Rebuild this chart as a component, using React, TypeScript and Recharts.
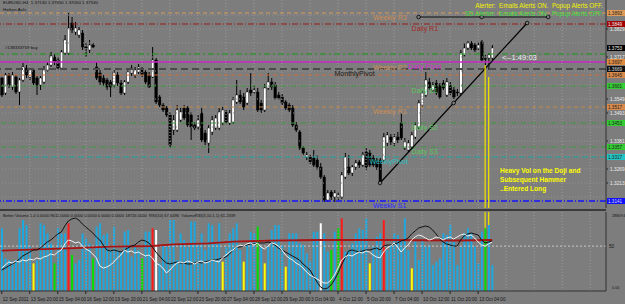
import React from 'react'
import { ComposedChart, Bar, Line, XAxis, YAxis, ReferenceLine, ReferenceDot, Cell } from 'recharts'

const FONT = '"Liberation Sans", Arial, sans-serif'
const BG = '#7d7d7d'
const SLOTS = 173 // bar slots across the visible window (data fills the first 141)

// H4 candles [open, high, low, close], 12 Sep 12:00 .. 13 Oct 20:00
const candles: number[][] = [
  [1.3633, 1.3637, 1.3557, 1.3565], [1.3573, 1.3653, 1.3565, 1.3645], [1.3645, 1.3653, 1.3593, 1.3605],
  [1.3597, 1.3657, 1.3585, 1.3645], [1.3637, 1.3645, 1.3569, 1.3577], [1.3577, 1.3633, 1.3525, 1.3625],
  [1.3625, 1.3693, 1.3617, 1.3677], [1.3673, 1.3685, 1.3633, 1.3645], [1.3637, 1.3673, 1.3625, 1.3665],
  [1.3665, 1.3673, 1.3605, 1.3613], [1.3633, 1.3641, 1.3565, 1.3605], [1.3605, 1.3641, 1.3585, 1.3633],
  [1.3617, 1.3681, 1.3609, 1.3665], [1.3665, 1.3697, 1.3657, 1.3685], [1.3685, 1.3737, 1.3677, 1.3721],
  [1.3717, 1.3729, 1.3685, 1.3697], [1.3705, 1.3717, 1.3665, 1.3673], [1.3673, 1.3745, 1.3665, 1.3737],
  [1.3733, 1.3805, 1.3725, 1.3785], [1.3733, 1.3893, 1.3725, 1.3833], [1.3853, 1.3877, 1.3813, 1.3825],
  [1.3817, 1.3857, 1.3805, 1.3833], [1.3805, 1.3837, 1.3793, 1.3825], [1.3813, 1.3825, 1.3745, 1.3757],
  [1.3757, 1.3777, 1.3717, 1.3753], [1.3745, 1.3785, 1.3733, 1.3765], [1.3765, 1.3773, 1.3753, 1.3757],
  [1.3677, 1.3697, 1.3625, 1.3633], [1.3653, 1.3665, 1.3605, 1.3617], [1.3633, 1.3645, 1.3601, 1.3613],
  [1.3625, 1.3633, 1.3585, 1.3597], [1.3617, 1.3625, 1.3557, 1.3597], [1.3605, 1.3665, 1.3593, 1.3653],
  [1.3645, 1.3657, 1.3601, 1.3613], [1.3613, 1.3625, 1.3565, 1.3573], [1.3573, 1.3625, 1.3565, 1.3617],
  [1.3617, 1.3673, 1.3609, 1.3657], [1.3653, 1.3685, 1.3641, 1.3673], [1.3645, 1.3677, 1.3633, 1.3665],
  [1.3657, 1.3689, 1.3649, 1.3677], [1.3665, 1.3677, 1.3637, 1.3645], [1.3657, 1.3665, 1.3609, 1.3617],
  [1.3645, 1.3657, 1.3593, 1.3597], [1.3637, 1.3757, 1.3633, 1.3705], [1.3705, 1.3713, 1.3529, 1.3537],
  [1.3557, 1.3565, 1.3517, 1.3525], [1.3525, 1.3533, 1.3497, 1.3505], [1.3513, 1.3521, 1.3477, 1.3485],
  [1.3485, 1.3497, 1.3353, 1.3365], [1.3425, 1.3485, 1.3405, 1.3465], [1.3425, 1.3525, 1.3417, 1.3505],
  [1.3465, 1.3513, 1.3457, 1.3497], [1.3513, 1.3525, 1.3465, 1.3473], [1.3513, 1.3521, 1.3437, 1.3445],
  [1.3485, 1.3497, 1.3385, 1.3437], [1.3445, 1.3457, 1.3425, 1.3433], [1.3437, 1.3485, 1.3425, 1.3465],
  [1.3493, 1.3513, 1.3377, 1.3385], [1.3413, 1.3425, 1.3365, 1.3377], [1.3373, 1.3445, 1.3333, 1.3433],
  [1.3417, 1.3481, 1.3405, 1.3465], [1.3433, 1.3485, 1.3425, 1.3473], [1.3433, 1.3513, 1.3425, 1.3497],
  [1.3453, 1.3517, 1.3445, 1.3505], [1.3497, 1.3505, 1.3449, 1.3457], [1.3453, 1.3505, 1.3445, 1.3493],
  [1.3457, 1.3557, 1.3449, 1.3545], [1.3537, 1.3625, 1.3529, 1.3565], [1.3565, 1.3585, 1.3529, 1.3537],
  [1.3557, 1.3573, 1.3505, 1.3517], [1.3533, 1.3593, 1.3525, 1.3577], [1.3585, 1.3653, 1.3561, 1.3573],
  [1.3577, 1.3605, 1.3569, 1.3585], [1.3577, 1.3593, 1.3497, 1.3505], [1.3533, 1.3545, 1.3493, 1.3505],
  [1.3505, 1.3609, 1.3497, 1.3593], [1.3593, 1.3653, 1.3585, 1.3617], [1.3617, 1.3633, 1.3585, 1.3597],
  [1.3605, 1.3617, 1.3545, 1.3553], [1.3565, 1.3577, 1.3545, 1.3553], [1.3557, 1.3569, 1.3525, 1.3533],
  [1.3537, 1.3545, 1.3505, 1.3513], [1.3525, 1.3533, 1.3497, 1.3505], [1.3513, 1.3525, 1.3437, 1.3445],
  [1.3445, 1.3457, 1.3417, 1.3425], [1.3417, 1.3425, 1.3345, 1.3353], [1.3353, 1.3361, 1.3325, 1.3333],
  [1.3317, 1.3337, 1.3305, 1.3325], [1.3317, 1.3325, 1.3289, 1.3297], [1.3313, 1.3345, 1.3277, 1.3285],
  [1.3305, 1.3325, 1.3265, 1.3277], [1.3277, 1.3293, 1.3229, 1.3237], [1.3237, 1.3245, 1.3137, 1.3145],
  [1.3145, 1.3185, 1.3137, 1.3173], [1.3177, 1.3185, 1.3145, 1.3157], [1.3157, 1.3185, 1.3137, 1.3173],
  [1.3157, 1.3177, 1.3145, 1.3165], [1.3157, 1.3257, 1.3149, 1.3245], [1.3237, 1.3333, 1.3229, 1.3317],
  [1.3277, 1.3325, 1.3245, 1.3253], [1.3253, 1.3285, 1.3241, 1.3277], [1.3277, 1.3305, 1.3265, 1.3293],
  [1.3297, 1.3305, 1.3273, 1.3285], [1.3285, 1.3337, 1.3277, 1.3325], [1.3337, 1.3353, 1.3265, 1.3277],
  [1.3333, 1.3345, 1.3277, 1.3285], [1.3313, 1.3325, 1.3277, 1.3285], [1.3305, 1.3313, 1.3265, 1.3277],
  [1.3305, 1.3313, 1.3213, 1.3217], [1.3305, 1.3413, 1.3297, 1.3397], [1.3373, 1.3417, 1.3361, 1.3405],
  [1.3397, 1.3409, 1.3365, 1.3377], [1.3373, 1.3409, 1.3361, 1.3397], [1.3397, 1.3417, 1.3373, 1.3385],
  [1.3453, 1.3493, 1.3385, 1.3393], [1.3353, 1.3393, 1.3345, 1.3377], [1.3345, 1.3385, 1.3337, 1.3373],
  [1.3357, 1.3417, 1.3345, 1.3405], [1.3397, 1.3457, 1.3389, 1.3445], [1.3437, 1.3545, 1.3429, 1.3533],
  [1.3525, 1.3585, 1.3517, 1.3573], [1.3565, 1.3657, 1.3557, 1.3625], [1.3617, 1.3633, 1.3585, 1.3593],
  [1.3585, 1.3617, 1.3577, 1.3605], [1.3613, 1.3625, 1.3565, 1.3573], [1.3605, 1.3613, 1.3549, 1.3557],
  [1.3613, 1.3625, 1.3585, 1.3593], [1.3565, 1.3633, 1.3557, 1.3617], [1.3605, 1.3617, 1.3565, 1.3573],
  [1.3585, 1.3597, 1.3549, 1.3557], [1.3577, 1.3589, 1.3561, 1.3573], [1.3573, 1.3745, 1.3565, 1.3733],
  [1.3725, 1.3773, 1.3717, 1.3753], [1.3753, 1.3781, 1.3745, 1.3773], [1.3773, 1.3781, 1.3745, 1.3753],
  [1.3765, 1.3773, 1.3737, 1.3745], [1.3753, 1.3777, 1.3745, 1.3765], [1.3777, 1.3785, 1.3697, 1.3705],
  [1.3711, 1.3725, 1.3677, 1.3709], [1.3713, 1.3733, 1.3665, 1.3725], [1.3713, 1.3765, 1.3705, 1.3753],
]

// Better Volume bars
const volumes = [
  22850, 11910, 11310, 10700, 11310, 22850, 25900, 24070, 16170, 10090, 11310, 24700, 24070, 21030, 17380,
  10090, 22850, 21030, 21030, 24700, 13130, 10090, 11310, 21030, 19210, 17380, 11910, 23460, 24700, 20420,
  21030, 14950, 23460, 14950, 14350, 21640, 22250, 12520, 16170, 14950, 11910, 21640, 21640, 22850, 22250,
  10090, 16780, 16170, 25900, 25900, 11310, 21030, 18600, 16170, 25300, 25300, 17380, 21030, 14950, 24700,
  24070, 17380, 24700, 10700, 16170, 21030, 22850, 24700, 14950, 10700, 16780, 21640, 21030, 23460, 16170,
  10090, 16170, 22250, 24070, 24070, 16780, 8870, 21030, 21030, 21030, 17380, 16780, 13740, 10700, 21640,
  21640, 24700, 21030, 14350, 14950, 21640, 22850, 26500, 14350, 14950, 17380, 21030, 22850, 22250, 26500,
  10090, 16170, 19820, 21030, 25900, 14950, 16780, 21030, 20420, 18600, 26500, 14950, 8270, 17990, 11310,
  18600, 16170, 16780, 9480, 10700, 11910, 21030, 20420, 24070, 17990, 9480, 16170, 21030, 22850, 21030,
  16170, 10090, 21640, 22850, 24070, 9480,
]
const yellowBars = [9, 63, 69, 75, 81, 105, 117]
const greenBars = [15, 20, 26, 40, 73, 94, 96, 138]
const redBars = [19, 43, 97, 109]
const whiteBars = [44, 91]

// RSI(10) (black) and VolumeRSI (white)
const rsi = [
  23.4, 25.6, 27.9, 30.1, 32.3, 35.6, 39.0, 41.2, 43.4, 45.7, 45.7, 47.9, 51.2, 54.6, 56.8, 60.2, 63.5, 65.7,
  72.4, 78.0, 80.2, 81.3, 79.1, 74.6, 71.3, 68.0, 64.6, 60.2, 56.8, 51.2, 45.7, 44.6, 45.7, 44.6, 43.4, 45.7,
  47.9, 50.1, 51.2, 54.6, 56.8, 55.7, 53.5, 49.0, 43.4, 39.0, 34.5, 31.2, 30.1, 31.2, 32.3, 31.2, 31.2, 30.1,
  30.1, 31.2, 32.3, 31.2, 32.3, 33.4, 34.5, 34.5, 35.6, 36.8, 37.9, 41.2, 45.7, 49.0, 49.0, 50.1, 51.2, 52.4,
  52.4, 53.5, 53.5, 53.5, 54.6, 53.5, 51.2, 47.9, 45.7, 43.4, 41.2, 39.0, 36.8, 34.5, 30.1, 26.7, 23.4, 16.7,
  10.0, 4.5, 2.2, 3.3, 6.7, 12.3, 20.1, 29.0, 36.8, 44.6, 45.7, 44.6, 43.4, 44.6, 45.7, 45.7, 46.8, 47.9,
  45.7, 50.1, 51.2, 51.2, 52.4, 53.5, 55.7, 56.8, 59.0, 63.5, 66.8, 70.2, 71.3, 72.4, 71.3, 68.0, 63.5, 57.9,
  54.6, 52.4, 51.2, 50.1, 50.1, 56.8, 61.3, 63.5, 64.6, 63.5, 62.4, 56.8, 53.5, 54.6, 55.7,
]
const volRsi = [
  25.6, 29.0, 32.3, 31.2, 33.4, 32.3, 34.5, 33.4, 35.6, 34.5, 36.8, 35.6, 37.9, 39.0, 41.2, 40.1, 43.4, 45.7,
  52.4, 56.8, 55.7, 53.5, 54.6, 50.1, 46.8, 44.6, 41.2, 36.8, 27.9, 25.6, 26.7, 29.0, 32.3, 36.8, 40.1, 45.7,
  43.4, 44.6, 42.3, 43.4, 41.2, 39.0, 40.1, 36.8, 31.2, 29.0, 25.6, 20.1, 23.4, 27.9, 31.2, 32.3, 31.2, 33.4,
  32.3, 30.1, 32.3, 33.4, 31.2, 32.3, 34.5, 33.4, 32.3, 36.8, 40.1, 43.4, 45.7, 49.0, 51.2, 50.1, 52.4, 53.5,
  51.2, 53.5, 49.0, 46.8, 50.1, 53.5, 52.4, 50.1, 45.7, 40.1, 36.8, 34.5, 31.2, 29.0, 25.6, 21.2, 17.8, 15.6,
  13.4, 11.1, 8.9, 8.9, 12.3, 17.8, 25.6, 34.5, 37.9, 40.1, 39.0, 41.2, 43.4, 42.3, 44.6, 43.4, 40.1, 37.9,
  36.8, 43.4, 47.9, 50.1, 53.5, 49.0, 43.4, 47.9, 51.2, 56.8, 60.2, 62.4, 61.3, 59.0, 56.8, 57.9, 60.2, 59.0,
  56.8, 59.0, 60.2, 57.9, 60.2, 62.4, 63.5, 61.3, 62.4, 59.0, 54.6, 51.2, 50.1, 52.4, 54.6,
]
// volume moving average, read at a few bars
const maBars = [0, 10, 19, 31, 43, 49, 59, 66, 76, 90, 110, 130, 140]
const maValues = [14700, 15200, 15570, 16170, 16410, 17020, 17390, 17990, 18350, 18600, 18600, 18420, 18600]

const timeTickBars = [0, 8, 16, 24, 32, 40, 48, 56, 64, 72, 80, 88, 96, 104, 112, 120, 128, 136]
const timeLabels = [
  '12 Sep 2011', '13 Sep 20:00', '15 Sep 04:00', '16 Sep 12:00', '19 Sep 20:00', '21 Sep 04:00',
  '22 Sep 12:00', '23 Sep 20:00', '27 Sep 04:00', '28 Sep 12:00', '29 Sep 20:00', '3 Oct 04:00',
  '4 Oct 12:00', '5 Oct 20:00', '7 Oct 04:00', '10 Oct 12:00', '11 Oct 20:00', '13 Oct 04:00',
]
const gridBars = [8, 16, 24, 32, 40, 48, 56, 64, 72, 80, 88, 96, 104, 112, 120, 128, 136, 144, 152, 160, 168]
const gridPrices = [1.3885, 1.3829, 1.3773, 1.3717, 1.3661, 1.3605, 1.3549, 1.3493, 1.3437, 1.3381, 1.3325, 1.3269, 1.3213, 1.3157]
// price labels that are not covered by a level box
const priceTicks = [1.3829, 1.3717, 1.3549, 1.3493, 1.3381, 1.3269, 1.3213]

// pivot levels and where their text sits (bar index)
const levelNames = ['Weekly R3', 'Daily R1', 'Daily Pivot', 'MonthlyPivot', 'Weekly R2', 'Daily S1', 'Weekly R1', 'Daily S2', 'Daily S3', 'WeeklyPivot', 'Weekly S1']
const levelPrices = [1.3893, 1.3849, 1.3697, 1.3669, 1.3645, 1.3601, 1.3517, 1.3453, 1.3357, 1.3317, 1.3141]
const levelLabelBars = [106, 117, 116, 95, 106, 117, 106, 117, 117, 105, 106]
const buyPrice = 1.3729

const levelStyle: Record<string, any> = {
  'Weekly R3': { stroke: '#d99a5c', dash: '4 3', w: 1, text: '#cf8e55', box: '#e09a58', boxText: '#222' },
  'Daily R1': { stroke: '#9a1c1c', dash: '6 2 1 2', w: 1, text: '#a42424', box: '#a00000', boxText: '#eee' },
  'Daily Pivot': { stroke: '#c42ac4', dash: '', w: 1.4, text: '#d42ad4', box: '#e08a40', boxText: '#222' },
  'MonthlyPivot': { stroke: '#4a4a4a', dash: '7 4', w: 2, text: '#1a1a1a', box: '#111', boxText: '#ddd' },
  'Weekly R2': { stroke: '#cf6e3a', dash: '4 3', w: 1, text: '#cf8e55', box: '#d88a4c', boxText: '#222', above: true },
  'Daily S1': { stroke: '#3c9c3c', dash: '5 2 1 2', w: 1, text: '#5ac85a', box: '#33cc33', boxText: '#222' },
  'Weekly R1': { stroke: '#c8884a', dash: '4 3', w: 1, text: '#cf8e55', box: '#d88a4c', boxText: '#222' },
  'Daily S2': { stroke: '#3c9c3c', dash: '5 2 1 2', w: 1, text: '#5ac85a', box: '#33cc33', boxText: '#222' },
  'Daily S3': { stroke: '#3c9c3c', dash: '5 2 1 2', w: 1, text: '#5ac85a', box: '#33cc33', boxText: '#222' },
  'WeeklyPivot': { stroke: '#1fa5a5', dash: '6 3', w: 1, text: '#2cc0c0', box: '#22c4c4', boxText: '#222' },
  'Weekly S1': { stroke: '#1414ff', dash: '6 2 1 2', w: 1.5, text: '#2a2aff', box: '#1010ff', boxText: '#ddd' },
}

const rows = Array.from({ length: SLOTS }, (_, i) => {
  const c = candles[i]
  const m = maBars.indexOf(i)
  return {
    i,
    range: c ? [c[2], c[1]] : null,
    o: c ? c[0] : null,
    h: c ? c[1] : null,
    l: c ? c[2] : null,
    c: c ? c[3] : null,
    vol: volumes[i] ?? null,
    rsi: rsi[i] ?? null,
    vrsi: volRsi[i] ?? null,
    ma: m >= 0 ? maValues[m] : null,
  }
})

const volColor = (i: number) =>
  yellowBars.includes(i) ? '#ffff00' : greenBars.includes(i) ? '#00e000' : redBars.includes(i) ? '#ff1a1a' : whiteBars.includes(i) ? '#ffffff' : '#1ea8e0'

const last = candles[candles.length - 1]

function Candle(props: any) {
  const { x, y, width, height, payload } = props
  if (!payload || payload.o == null) return null
  const top = Math.min(y, y + height)
  const bot = Math.max(y, y + height)
  const span = payload.h - payload.l || 1e-9
  const py = (v: number) => top + ((payload.h - v) / span) * (bot - top)
  const cx = x + width / 2
  const bTop = py(Math.max(payload.o, payload.c))
  const bBot = py(Math.min(payload.o, payload.c))
  const up = payload.c >= payload.o
  return (
    <g>
      <line x1={cx} x2={cx} y1={top} y2={bot} stroke="#000" strokeWidth={1} />
      <rect x={cx - 1.3} y={bTop} width={2.6} height={Math.max(bBot - bTop, 0.8)} fill={up ? '#fff' : '#000'} stroke="#000" strokeWidth={0.4} />
    </g>
  )
}

const PriceTick = ({ x, y, payload }: any) => (
  <text x={x} y={y + 1.8} fontSize={4.8} fill="#ececec" fontFamily={FONT}>{payload.value.toFixed(4)}</text>
)

const AxisBox = ({ viewBox, value, fill, color }: any) => {
  if (!viewBox) return null
  const { x, y, width } = viewBox
  return (
    <g>
      <rect x={x + width + 1} y={y - 3} width={18} height={6} fill={fill} />
      <text x={x + width + 2} y={y + 1.6} fontSize={4.6} fill={color} fontFamily={FONT}>{value}</text>
    </g>
  )
}

const TimeTick = ({ x, y, payload }: any) => {
  const k = timeTickBars.indexOf(payload.value)
  return (
    <text x={x + 1} y={y + 4.5} fontSize={4.6} fill="#151515" fontFamily={FONT}>{timeLabels[k]}</text>
  )
}

const VolTick = ({ x, y, payload }: any) => (
  <text x={x - 2} y={payload.value > 0 ? y + 5 : y - 2} fontSize={3.8} fill="#151515" fontFamily={FONT}>
    {payload.value > 0 ? payload.value.toFixed(1) : payload.value.toFixed(2)}
  </text>
)

const textStyle = (left: number, top: number, size: number, color: string, extra: any = {}): React.CSSProperties => ({
  position: 'absolute', left, top, fontSize: size, color, fontFamily: FONT, lineHeight: 1, whiteSpace: 'pre', ...extra,
})

export default function App() {
  return (
    <div style={{ position: 'absolute', left: 0, top: 0, width: 625, height: 304, background: BG, overflow: 'hidden' }}>
      <div style={{ position: 'absolute', left: 0, top: 0 }}>
        <ComposedChart width={625} height={208} data={rows} margin={{ top: 0, right: 0, bottom: 0, left: 0 }} barCategoryGap={0}>
          <XAxis dataKey="i" type="category" hide />
          <YAxis orientation="right" width={19} domain={[1.3113, 1.3945]} ticks={priceTicks} interval={0}
            tick={<PriceTick />} tickSize={2} tickLine={{ stroke: '#2a2a2a' }} axisLine={{ stroke: '#333' }} allowDataOverflow />
          {gridBars.map((b) => (
            <ReferenceLine key={'v' + b} x={b} stroke="#9b9b9b" strokeDasharray="1 2" />
          ))}
          {gridPrices.map((p) => (
            <ReferenceLine key={'h' + p} y={p} stroke="#929292" strokeDasharray="1 2" />
          ))}
          {levelNames.map((n, k) => {
            const s = levelStyle[n]
            return (
              <ReferenceLine key={n} y={levelPrices[k]} stroke={s.stroke} strokeWidth={s.w} strokeDasharray={s.dash || undefined}
                label={<AxisBox value={levelPrices[k].toFixed(4)} fill={s.box} color={s.boxText} />} />
            )
          })}
          <ReferenceLine y={buyPrice} stroke="#169a16" strokeDasharray="6 3 2 3" />
          <ReferenceLine y={last[3]} stroke="none" label={<AxisBox value={last[3].toFixed(4)} fill="#000" color="#eee" />} />
          {levelNames.map((n, k) => {
            const s = levelStyle[n]
            return (
              <ReferenceDot key={'t' + n} x={levelLabelBars[k]} y={levelPrices[k]} r={0}
                shape={(p: any) => (
                  <text x={p.cx} y={s.above ? p.cy - 5 : p.cy + 6.5} fontSize={7} fill={s.text} fontFamily={FONT}>{n}</text>
                )} />
            )
          })}
          {/* trend lines */}
          <ReferenceLine segment={[{ x: 108, y: 1.3213 }, { x: 150, y: 1.3853 }]} stroke="#000" strokeWidth={1.2} />
          <ReferenceLine segment={[{ x: 119, y: 1.3877 }, { x: 156, y: 1.3877 }]} stroke="#111" strokeWidth={1.2} />
          {[[108, 1.3213], [129, 1.3533], [150, 1.3853], [119, 1.3877], [137, 1.3877], [156, 1.3877]].map(([bx, by]) => (
            <ReferenceDot key={'d' + bx + by} x={bx} y={by} r={1.8} fill="#7d7d7d" stroke="#000" strokeWidth={0.8} />
          ))}
          {/* doji + hammer markers */}
          <ReferenceLine segment={[{ x: 138, y: 1.3685 }, { x: 138, y: 1.3113 }]} stroke="#e8dc00" strokeWidth={1.3} />
          <ReferenceLine segment={[{ x: 139, y: 1.3637 }, { x: 139, y: 1.3113 }]} stroke="#e8dc00" strokeWidth={1.3} />
          <Bar dataKey="range" shape={<Candle />} isAnimationActive={false} />
        </ComposedChart>
      </div>

      <div style={{ position: 'absolute', left: 0, top: 209, width: 606, height: 2, background: '#3a3a3a' }} />

      <div style={{ position: 'absolute', left: 0, top: 212 }}>
        <ComposedChart width={625} height={92} data={rows} margin={{ top: 0, right: 0, bottom: 0, left: 0 }} barCategoryGap={0}>
          <XAxis dataKey="i" type="category" ticks={timeTickBars} interval={0} height={13} tick={<TimeTick />}
            tickSize={3} tickLine={{ stroke: '#222' }} axisLine={{ stroke: '#333' }} />
          <YAxis yAxisId="vol" orientation="right" width={19} domain={[0, 28810]} ticks={[0, 28809.6]} interval={0}
            tick={<VolTick />} tickLine={false} axisLine={{ stroke: '#333' }} allowDataOverflow />
          <YAxis yAxisId="rsi" hide domain={[0, 88]} allowDataOverflow />
          {gridBars.map((b) => (
            <ReferenceLine key={'v' + b} yAxisId="vol" x={b} stroke="#9b9b9b" strokeDasharray="1 2" />
          ))}
          <ReferenceLine yAxisId="rsi" y={50} stroke="#c8c8c8" strokeDasharray="2 2"
            label={({ viewBox }: any) => (
              <text x={viewBox.x + viewBox.width + 3} y={viewBox.y + 1.8} fontSize={4.6} fill="#151515" fontFamily={FONT}>50</text>
            )} />
          <ReferenceLine yAxisId="vol" segment={[{ x: 138, y: 28810 }, { x: 138, y: volumes[138] }]} stroke="#e8dc00" strokeWidth={1.3} />
          <ReferenceLine yAxisId="vol" segment={[{ x: 139, y: 28810 }, { x: 139, y: volumes[139] }]} stroke="#e8dc00" strokeWidth={1.3} />
          <Bar yAxisId="vol" dataKey="vol" barSize={2} isAnimationActive={false}>
            {rows.map((r) => (
              <Cell key={r.i} fill={volColor(r.i)} />
            ))}
          </Bar>
          <Line yAxisId="vol" dataKey="ma" stroke="#a81414" strokeWidth={1.8} dot={false} connectNulls isAnimationActive={false} />
          <Line yAxisId="rsi" dataKey="rsi" stroke="#111" strokeWidth={1} dot={false} isAnimationActive={false} />
          <Line yAxisId="rsi" dataKey="vrsi" stroke="#f2f2f2" strokeWidth={1} dot={false} isAnimationActive={false} />
        </ComposedChart>
      </div>

      <div style={textStyle(3, 1, 4.4, '#111')}>{`EURUSD,H4  ${last.map((v) => v.toFixed(5)).join(' ')}`}</div>
      <div style={textStyle(3, 8, 4.4, '#111')}>Heiken Ashi</div>
      <div style={textStyle(5, 46, 4.4, '#111')}>#138333759 buy</div>
      <div style={textStyle(0, 3, 6.3, '#f2f200', { left: 'auto', right: 22 })}>Alerter:  Emails Alerts ON.  Popup Alerts OFF.</div>
      <div style={textStyle(0, 11, 6.3, '#3ede3e', { left: 'auto', right: 22 })}>SD Alerter:  Emails Alerts ON.  Popup Alerts OFF.</div>
      <div style={textStyle(502, 54, 7.6, '#f0f0f0')}>{'<--1:49:03'}</div>
      <div style={textStyle(500, 168, 6.6, '#ffff00', { fontWeight: 'bold' })}>Heavy Vol on the Doji and</div>
      <div style={textStyle(500, 177, 6.6, '#ffff00', { fontWeight: 'bold' })}>Subsequent Hammer</div>
      <div style={textStyle(500, 186, 6.6, '#ffff00', { fontWeight: 'bold' })}>..Entered Long</div>
      <div style={textStyle(3, 214, 4.1, '#111')}>
        Better Volume 1.4 0.0000 9611.0000 0.0000 0.0000 0.0000 0.0000 18726.0000  RSI(10) 67.6496  VolumeRSI(3,10,1,1) 61.2339
      </div>
    </div>
  )
}
